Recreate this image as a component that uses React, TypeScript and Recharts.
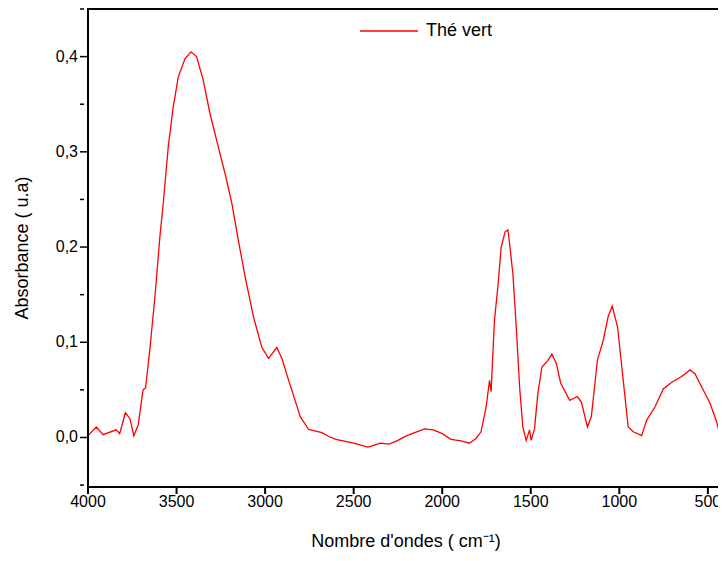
import React from "react";
import { LineChart, Line, XAxis, YAxis, ReferenceArea } from "recharts";

const wavenumbers = [4000,3953,3915,3841,3821,3789,3764,3741,3717,3689,3675,3651,3622,3594,3575,3547,3519,3490,3452,3418,3387,3349,3311,3264,3226,3188,3151,3113,3066,3019,2981,2934,2905,2867,2801,2754,2679,2641,2600,2500,2420,2400,2350,2300,2250,2200,2100,2050,2000,1950,1894,1847,1809,1781,1752,1733,1724,1705,1686,1667,1645,1629,1620,1601,1582,1563,1545,1526,1507,1498,1479,1460,1437,1403,1381,1356,1331,1280,1237,1214,1180,1158,1124,1091,1063,1040,1010,978,950,921,874,846,799,752,704,648,601,573,535,488,450,431,412,409];
const absorbance = [0.002,0.011,0.003,0.008,0.004,0.026,0.020,0.002,0.013,0.050,0.052,0.092,0.148,0.211,0.246,0.305,0.347,0.379,0.398,0.405,0.400,0.375,0.340,0.305,0.277,0.246,0.207,0.169,0.127,0.095,0.083,0.0945,0.083,0.060,0.0216,0.0084,0.005,0.001,-0.002,-0.006,-0.010,-0.009,-0.006,-0.007,-0.003,0.002,0.009,0.008,0.004,-0.002,-0.0035,-0.006,-0.001,0.006,0.032,0.060,0.048,0.123,0.158,0.200,0.216,0.218,0.204,0.172,0.116,0.053,0.011,-0.003,0.008,-0.003,0.009,0.046,0.074,0.081,0.0875,0.078,0.057,0.039,0.043,0.037,0.011,0.022,0.081,0.102,0.127,0.138,0.116,0.060,0.011,0.006,0.002,0.018,0.032,0.051,0.058,0.064,0.071,0.067,0.053,0.036,0.016,0.002,0.228,0.46];
const xTicks = [4000,3500,3000,2500,2000,1500,1000,500];
const yTicks = [-0.05,0,0.05,0.1,0.15,0.2,0.25,0.3,0.35,0.4,0.45];
const yLabelled = [0,0.1,0.2,0.3,0.4];
const seriesName = "Thé vert";
const xDomain = [409, 4000];
const yDomain = [-0.052, 0.45];

const data = wavenumbers.map((w, i) => ({ w, a: absorbance[i] }));
const FONT = "'Liberation Sans', Arial, sans-serif";

const YTick = (props: any) => {
  const { x, y, payload } = props;
  const v = payload.value;
  const major = yLabelled.some((t) => Math.abs(t - v) < 1e-6);
  return (
    <g>
      <line x1={x} x2={x + (major ? 7 : 4)} y1={y} y2={y} stroke="#000" strokeWidth={1.5} />
      {major && (
        <text x={x - 2} y={y + 5} textAnchor="end" fontSize={16} fontFamily={FONT} fill="#000">
          {v.toFixed(1).replace(".", ",")}
        </text>
      )}
    </g>
  );
};

export default function App() {
  return (
    <div style={{ position: "relative", width: 726, height: 561, margin: -8 }}>
      <LineChart width={726} height={561} data={data} margin={{ top: 9, right: 2, left: 0, bottom: 0 }}>
        <XAxis
          dataKey="w"
          type="number"
          domain={xDomain}
          reversed
          allowDataOverflow
          ticks={xTicks}
          tickSize={7}
          tick={{ fontSize: 16, fontFamily: FONT, fill: "#000" }}
          stroke="#000"
          strokeWidth={2}
          height={74}
          label={{ value: "Nombre d'ondes ( cm⁻¹)", position: "insideBottom", offset: 14, fontSize: 18, fontFamily: FONT, fill: "#000" }}
        />
        <YAxis
          type="number"
          domain={yDomain}
          allowDataOverflow
          ticks={yTicks}
          tickLine={false}
          tick={<YTick />}
          stroke="#000"
          strokeWidth={2}
          width={88}
          label={{ value: "Absorbance ( u.a)", angle: -90, position: "insideLeft", offset: 22, fontSize: 18, fontFamily: FONT, fill: "#000", style: { textAnchor: "middle" } }}
        />
        <ReferenceArea x1={xDomain[0]} x2={xDomain[1]} y1={yDomain[0]} y2={yDomain[1]} fill="none" stroke="#000" strokeWidth={2} ifOverflow="visible" />
        <Line dataKey="a" name={seriesName} stroke="#ff0000" strokeWidth={1.3} dot={false} type="linear" isAnimationActive={false} />
      </LineChart>
      <div style={{ position: "absolute", top: 20, left: 360, display: "flex", alignItems: "center", fontFamily: FONT, fontSize: 18, color: "#000" }}>
        <svg width={58} height={4}><line x1={0} x2={58} y1={2} y2={2} stroke="#ff0000" strokeWidth={1.5} /></svg>
        <span style={{ marginLeft: 8 }}>{seriesName}</span>
      </div>
    </div>
  );
}
